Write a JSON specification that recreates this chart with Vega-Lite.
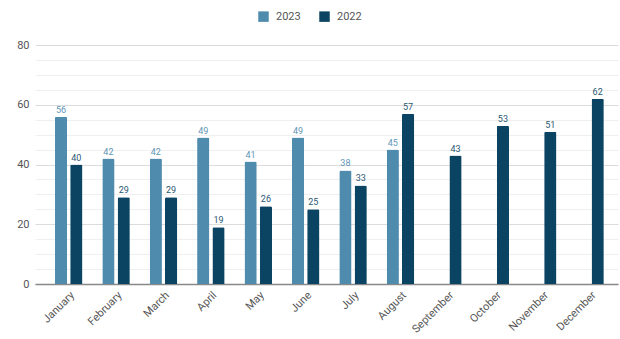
{
  "$schema": "https://vega.github.io/schema/vega-lite/v6.json",
  "width": 583,
  "height": 239,
  "autosize": {"type": "none"},
  "padding": {"left": 35, "top": 45, "right": 2, "bottom": 55},
  "config": {
    "view": {"stroke": null},
    "font": "Roboto",
    "axis": {"labelFont": "Roboto", "labelColor": "#555"},
    "legend": {"labelFont": "Roboto"}
  },
  "data": {
    "values": [
      {"month": "January", "year": "2023", "value": 56},
      {"month": "February", "year": "2023", "value": 42},
      {"month": "March", "year": "2023", "value": 42},
      {"month": "April", "year": "2023", "value": 49},
      {"month": "May", "year": "2023", "value": 41},
      {"month": "June", "year": "2023", "value": 49},
      {"month": "July", "year": "2023", "value": 38},
      {"month": "August", "year": "2023", "value": 45},
      {"month": "January", "year": "2022", "value": 40},
      {"month": "February", "year": "2022", "value": 29},
      {"month": "March", "year": "2022", "value": 29},
      {"month": "April", "year": "2022", "value": 19},
      {"month": "May", "year": "2022", "value": 26},
      {"month": "June", "year": "2022", "value": 25},
      {"month": "July", "year": "2022", "value": 33},
      {"month": "August", "year": "2022", "value": 57},
      {"month": "September", "year": "2022", "value": 43},
      {"month": "October", "year": "2022", "value": 53},
      {"month": "November", "year": "2022", "value": 51},
      {"month": "December", "year": "2022", "value": 62}
    ]
  },
  "encoding": {
    "x": {
      "field": "month",
      "type": "nominal",
      "sort": ["January","February","March","April","May","June","July","August","September","October","November","December"],
      "scale": {"paddingInner": 0, "paddingOuter": 0.15, "align": 0.7},
      "axis": {
        "title": null,
        "labelAngle": -45,
        "labelFontSize": 11,
        "ticks": false,
        "domainColor": "#888",
        "domainWidth": 1.5,
        "labelPadding": 5
      }
    },
    "xOffset": {
      "field": "year",
      "type": "nominal",
      "sort": ["2023", "2022"],
      "scale": {"domain": ["2023", "2022"], "paddingInner": 0.2, "paddingOuter": 0.65}
    },
    "y": {
      "field": "value",
      "type": "quantitative",
      "scale": {"domain": [0, 80], "nice": false},
      "axis": {
        "title": null,
        "values": [0,5,10,15,20,25,30,35,40,45,50,55,60,65,70,75,80],
        "labelExpr": "datum.value % 20 === 0 ? datum.label : ''",
        "gridColor": {"condition": {"test": "datum.value % 20 === 0", "value": "#dcdcdc"}, "value": "#efefef"},
        "domain": false,
        "ticks": false,
        "labelFontSize": 11,
        "labelPadding": 6
      }
    },
    "color": {
      "field": "year",
      "type": "nominal",
      "scale": {"domain": ["2023", "2022"], "range": ["#4f8bad", "#0b4462"]},
      "legend": {
        "title": null,
        "orient": "none",
        "direction": "horizontal",
        "legendX": 223,
        "legendY": -34,
        "symbolType": "square",
        "symbolSize": 110,
        "symbolStrokeWidth": 0,
        "labelFontSize": 11,
        "labelColor": "#555",
        "columnPadding": 18,
        "labelOffset": 7
      }
    }
  },
  "layer": [
    {
      "mark": {"type": "bar", "cornerRadiusTopLeft": 1.5, "cornerRadiusTopRight": 1.5}
    },
    {
      "mark": {"type": "text", "dy": -7, "fontSize": 9},
      "encoding": {
        "text": {"field": "value", "type": "quantitative"},
        "color": {
          "field": "year",
          "type": "nominal",
          "scale": {"domain": ["2023", "2022"], "range": ["#5f95b5", "#2a5872"]},
          "legend": null
        }
      }
    }
  ],
  "resolve": {"scale": {"color": "independent"}}
}
